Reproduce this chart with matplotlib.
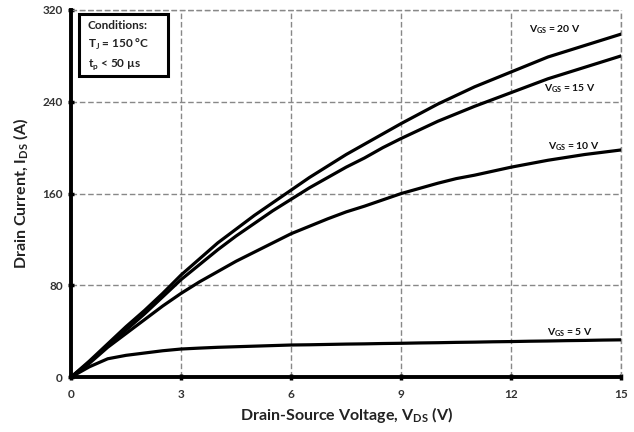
import matplotlib
matplotlib.use('Agg')
import matplotlib.pyplot as plt
from matplotlib.patches import Rectangle

plt.rcParams['font.family'] = ['Lato', 'DejaVu Sans']
plt.rcParams['mathtext.fontset'] = 'custom'
plt.rcParams['mathtext.rm'] = 'Lato'
plt.rcParams['mathtext.bf'] = 'Lato:bold'

# drain-source voltage (V)
vds = [0, 0.5, 1, 1.5, 2, 2.5, 3, 3.5, 4, 4.5, 5, 5.5, 6, 6.5, 7, 7.5, 8, 8.5,
       9, 9.5, 10, 10.5, 11, 11.5, 12, 12.5, 13, 13.5, 14, 14.5, 15]
# drain current (A) per gate voltage
ids_20v = [0, 14, 29, 44, 58, 73, 89, 103, 117, 129, 141, 152, 163, 174, 184, 194,
           203, 212, 221, 229.5, 238, 245.5, 253, 259.5, 266, 272.5, 279, 284, 289, 294, 299]
ids_15v = [0, 13, 27, 41, 55, 70, 85, 98, 111, 123, 134, 145, 155, 165, 174, 183,
           191, 200, 208, 215.5, 223, 229.5, 236, 242, 248, 254, 260, 265, 270, 275, 280]
ids_10v = [0, 12, 26, 38, 50, 62, 73, 83, 92, 101, 109, 117, 125, 131.5, 138, 144,
           149, 154.5, 160, 164.5, 169, 173, 176, 179.5, 183, 186, 189, 191.5, 194, 196, 198]
ids_5v = [0, 9, 16, 19, 21, 23, 24.5, 25.3, 26, 26.5, 27, 27.5, 28, 28.2, 28.5, 28.8,
          29, 29.3, 29.5, 29.8, 30, 30.3, 30.5, 30.8, 31, 31.3, 31.5, 31.8, 32, 32.3, 32.5]

curves = [ids_20v, ids_15v, ids_10v, ids_5v]
labels = ['20', '15', '10', '5']
label_pos = [(13.2, 303), (13.6, 251), (13.7, 201), (13.6, 38.5)]

xticks = [0, 3, 6, 9, 12, 15]
yticks = [0, 80, 160, 240, 320]

fig = plt.figure(figsize=(6.34, 4.32), dpi=100)
ax = fig.add_axes([0.112, 0.127, 0.868, 0.85])

for ys in curves:
    ax.plot(vds, ys, color='black', lw=2.3, solid_capstyle='round',
            solid_joinstyle='round', zorder=3)

for lab, (x, y) in zip(labels, label_pos):
    ax.text(x, y, r'$\mathbf{V_{GS}}$' + f' = {lab} V', fontsize=7.5, fontweight='bold',
            ha='center', va='center', color='#111111')

ax.set_xlim(0, 15)
ax.set_ylim(0, 320)
ax.set_xticks(xticks)
ax.set_yticks(yticks)
ax.grid(True, color='#888888', linestyle=(0, (4, 2)), lw=1)
ax.axvline(15, color='#888888', linestyle=(0, (4, 2)), lw=1, clip_on=False)
ax.axhline(320, color='#888888', linestyle=(0, (4, 2)), lw=1, clip_on=False)

for s in ['top', 'right']:
    ax.spines[s].set_visible(False)
for s in ['left', 'bottom']:
    ax.spines[s].set_linewidth(2.8)
    ax.spines[s].set_zorder(4)
ax.tick_params(direction='inout', length=5, width=2.5, labelsize=8.5, colors='black',
               labelcolor='#333333')
ax.tick_params(axis='x', pad=6)
for t in ax.get_xticklabels() + ax.get_yticklabels():
    t.set_fontweight('bold')

ax.set_xlabel(r'Drain-Source Voltage, V$_{\mathbf{DS}}$ (V)', fontsize=11.5,
              fontweight='bold', color='#222222', labelpad=4)
ax.set_ylabel(r'Drain Current, I$_{\mathbf{DS}}$ (A)', fontsize=11.5,
              fontweight='bold', color='#222222', labelpad=8)

# conditions box
ax.add_patch(Rectangle((0.014, 0.82), 0.162, 0.168, transform=ax.transAxes,
                       fill=True, facecolor='white', edgecolor='black', lw=2.2, zorder=5))
ax.text(0.03, 0.972, 'Conditions:\n' + r'T$_{\mathbf{J}}$ = 150 °C' + '\n' + r't$_{\mathbf{p}}$ < 50 µs',
        transform=ax.transAxes, fontsize=8.5, fontweight='bold', color='#222222',
        va='top', ha='left', linespacing=1.55, zorder=6)

fig.savefig('out.png', dpi=100)
